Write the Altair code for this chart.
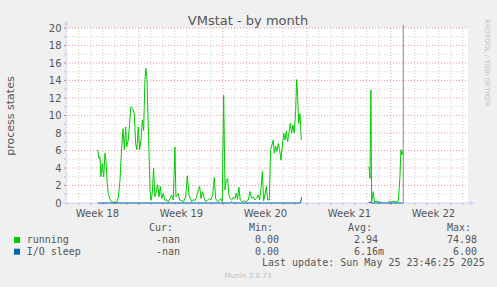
import altair as alt
import pandas as pd

# ---------------- data (x = days from the Week 19 boundary) ----------------
run_day = [-3.44, -3.33, -3.25, -3.17, -3.06, -2.94, -2.83, -2.75, -2.64, -2.56,
           -2.44, -2.28, -2.14, -2.0, -1.86, -1.72, -1.58, -1.44, -1.33, -1.22,
           -1.11, -1.03, -0.89, -0.78, -0.67, -0.53, -0.39, -0.28, -0.17, -0.06,
           0.06, 0.17, 0.28, 0.39, 0.5, 0.58, 0.67, 0.78, 0.92, 1.0,
           1.11, 1.22, 1.33, 1.44, 1.56, 1.67, 1.78, 1.89, 2.03, 2.17,
           2.31, 2.44, 2.58, 2.72, 2.86, 3.0, 3.08, 3.19, 3.28, 3.39,
           3.56, 3.72, 3.89, 4.03, 4.17, 4.28, 4.39, 4.53, 4.67, 4.81,
           4.94, 5.06, 5.17, 5.31, 5.44, 5.58, 5.72, 5.86, 6.0, 6.14,
           6.28, 6.39, 6.56, 6.69, 6.83, 6.94, 7.06, 7.17, 7.28, 7.39,
           7.5, 7.61, 7.72, 7.86, 8.0, 8.11, 8.22, 8.33, 8.44, 8.61,
           8.78, 8.94, 9.11, 9.25, 9.39, 9.53, 9.67, 9.81, 9.94, 10.06,
           10.17, 10.28, 10.39, 10.5, 10.61, 10.72, 10.86, 10.97, 11.08, 11.19,
           11.28, 11.39, 11.5, 11.61, 11.72, 11.83, 11.94, 12.06, 12.17, 12.28,
           12.39, 12.5, 12.61, 12.72, 12.83, 12.94, 13.06, 13.14, 13.22, 13.31,
           13.42, 13.53,
           None,
           19.17, 19.25, 19.33, 19.39, 19.53, 19.61, 19.81, 20.03, 20.22,
           None,
           20.78, 20.97, 21.19, 21.42, 21.61, 21.75, 21.83, 21.92, 21.97]
run_val = [6.06, 5.1, 5.3, 3.0, 4.5, 3.0, 5.7, 4.9, 2.2, 1.1,
           0.5, 0.15, 0.05, 0.15, 0.05, 0.65, 2.6, 6.4, 8.5, 6.1,
           8.7, 6.4, 7.2, 9.1, 11.0, 10.8, 10.2, 6.8, 6.1, 8.7,
           6.1, 7.2, 9.5, 8.3, 14.1, 15.4, 14.1, 8.7, 1.5, 0.3,
           1.1, 4.0, 0.7, 1.3, 2.1, 0.7, 1.9, 0.5, 1.1, 0.27,
           0.4, 0.1, 0.5, 0.9, 0.35, 6.4, 0.7, 0.9, 1.1, 0.35,
           0.27, 0.15, 0.7, 3.1, 0.9, 0.5, 0.15, 0.4, 0.27, 0.7,
           1.5, 1.9, 0.5, 1.3, 0.5, 0.15, 0.35, 0.5, 0.35, 0.9,
           2.9, 0.5, 0.15, 0.27, 0.5, 0.15, 12.3, 1.5, 2.6, 2.8,
           0.9, 0.5, 0.35, 0.65, 0.5, 1.1, 0.4, 1.8, 0.35, 0.15,
           0.25, 0.15, 0.35, 1.3, 0.55, 0.7, 0.35, 0.55, 0.9, 0.35,
           1.7, 3.6, 0.25, 0.9, 1.9, 0.35, 0.35, 6.1, 6.6, 7.2,
           5.7, 6.5, 5.9, 6.8, 6.1, 4.9, 6.4, 8.0, 7.2, 8.2,
           7.0, 8.0, 9.1, 8.0, 8.9, 8.0, 10.6, 14.1, 12.2, 9.1,
           10.2, 7.2,
           None,
           4.15, 2.8, 12.9, 0.15, 1.3, 0.15, 0.2, 0.1, 0.1,
           None,
           0.2, 0.1, 0.2, 0.1, 0.2, 3.0, 6.1, 5.5, 5.9]

io_day = [-3.44, 7.65, 7.72, 7.8, 13.46, 13.56,
          None,
          19.17, 19.25, 19.33, 21.97]
io_val = [0.0, 0.0, 0.15, 0.0, 0.0, 0.65,
          None,
          0.0, 0.15, 0.0, 0.0]

now_day = [22.03]

y_major = [2, 4, 6, 8, 10, 12, 14, 16, 18, 20]
y_minor = [1, 3, 5, 7, 9, 11, 13, 15, 17, 19]
x_major = [0, 7, 14, 21]
x_minor = [-6, -5, -4, -3, -2, -1, 1, 2, 3, 4, 5, 6, 8, 9, 10, 11, 12, 13,
           15, 16, 17, 18, 19, 20, 22, 23, 24, 25, 26, 27]
y_labels = [0, 2, 4, 6, 8, 10, 12, 14, 16, 18, 20]
week_pos = [-3.5, 3.5, 10.5, 17.5, 24.5]
week_names = ["Week 18", "Week 19", "Week 20", "Week 21", "Week 22"]

series_names = ["running", "I/O sleep"]
series_colors = ["#00CC00", "#0066B3"]
cur_vals = ["-nan", "-nan"]
min_vals = ["0.00", "0.00"]
avg_vals = ["2.94", "6.16m"]
max_vals = ["74.98", "6.00"]

title_text = "VMstat - by month"
y_title = "process states"
update_text = "Last update: Sun May 25 23:46:25 2025"
munin_text = "Munin 2.0.73"
rrd_text = "RRDTOOL / TOBI OETIKER"

# ---------------- layout ----------------
W, H = 402, 175
FONT = "DejaVu Sans"
MONO = "DejaVu Sans Mono"
TXT = "#555555"
AXC = "#CFD6F8"


def segs(days, vals):
    rows, s = [], 0
    for d, v in zip(days, vals):
        if d is None:
            s += 1
            continue
        rows.append({"d": d, "v": v, "seg": s})
    return pd.DataFrame(rows)


run_df = segs(run_day, run_val)
io_df = segs(io_day, io_val)

xs = alt.Scale(domain=[-6.08, 27.42], nice=False, zero=False)
ys = alt.Scale(domain=[0, 20], nice=False, zero=False)

# label expression built from the week lists
expr = "''"
for p, n in reversed(list(zip(week_pos, week_names))):
    expr = f"abs(datum.value - ({p})) < 0.01 ? '{n}' : " + expr

X_AXIS = alt.Axis(values=week_pos, labelExpr=expr, grid=False, ticks=False,
                  domain=False, labelPadding=5, labelFont=FONT, labelFontSize=10,
                  labelColor=TXT, title=None, labelFlush=False, labelOverlap=False)
Y_AXIS = alt.Axis(values=y_labels, grid=False, ticks=False, domain=False,
                  labelPadding=5, labelFont=FONT, labelFontSize=10,
                  labelColor=TXT, title=y_title, titleFont=FONT,
                  titleFontSize=11, titleFontWeight="normal", titleColor=TXT,
                  titleX=-56, titleY=H / 2, titleAngle=-90,
                  titleBaseline="middle", titleAlign="center",
                  labelFlush=False, labelOverlap=False)


def X(field="d"):
    return alt.X(f"{field}:Q", scale=xs, axis=X_AXIS)


def Y(field="v"):
    return alt.Y(f"{field}:Q", scale=ys, axis=Y_AXIS)


layers = []


def hgrid(vals, color, opacity):
    return alt.Chart(pd.DataFrame({"v": vals})).mark_rule(
        color=color, opacity=opacity, strokeDash=[1, 2], strokeWidth=1
    ).encode(y=Y(), x=alt.value(0), x2=alt.value(W))


def vgrid(vals, color, opacity):
    return alt.Chart(pd.DataFrame({"d": vals})).mark_rule(
        color=color, opacity=opacity, strokeDash=[1, 2], strokeWidth=1
    ).encode(x=X(), y=alt.value(0), y2=alt.value(H))


def xtick(vals, color):
    return alt.Chart(pd.DataFrame({"d": vals})).mark_rule(color=color, strokeWidth=1).encode(
        x=X(), y=alt.value(H), y2=alt.value(H + 2))


def ytick(vals, color):
    return alt.Chart(pd.DataFrame({"v": vals})).mark_rule(color=color, strokeWidth=1).encode(
        y=Y(), x=alt.value(-2), x2=alt.value(0))


layers += [hgrid(y_minor, "#C0C0C0", 0.75), hgrid(y_major, "#E00000", 0.4),
           vgrid(x_minor, "#C0C0C0", 0.75), vgrid(x_major, "#E00000", 0.4)]

# axis lines and arrows
one = pd.DataFrame({"k": [0]})
layers.append(alt.Chart(one).mark_rule(color=AXC, strokeWidth=1).encode(
    x=alt.value(0), y=alt.value(-4), y2=alt.value(H)))
layers.append(alt.Chart(one).mark_rule(color=AXC, strokeWidth=1).encode(
    x=alt.value(-3), x2=alt.value(W + 3), y=alt.value(H)))
layers.append(alt.Chart(one).mark_point(shape="triangle-up", filled=True, color=AXC,
                                        size=30, opacity=1).encode(
    x=alt.value(0), y=alt.value(-5)))
layers.append(alt.Chart(one).mark_point(shape="triangle-right", filled=True, color=AXC,
                                        size=30, opacity=1).encode(
    x=alt.value(W + 4), y=alt.value(H)))

layers += [xtick(x_minor, "#C0C0C0"), xtick(x_major, "#E88080"),
           ytick(y_minor, "#C0C0C0"), ytick(y_major, "#E88080")]

# data lines
run_line = alt.Chart(run_df).mark_line(color=series_colors[0], strokeWidth=1).encode(
    x=X(), y=Y(), detail="seg:N")
io_line = alt.Chart(io_df).mark_line(color=series_colors[1], strokeWidth=1).encode(
    x=X(), y=Y(), detail="seg:N")
now_rule = alt.Chart(pd.DataFrame({"d": now_day})).mark_rule(color="#909090", strokeWidth=1).encode(
    x=X(), y=alt.value(-3), y2=alt.value(H))
layers += [run_line, io_line, now_rule]


def txt(s, x, y, font=FONT, size=10, color=TXT, align="left", angle=0, baseline="middle"):
    return alt.Chart(pd.DataFrame({"t": [s]})).mark_text(
        font=font, fontSize=size, color=color, align=align, baseline=baseline,
        angle=angle).encode(text="t:N", x=alt.value(x), y=alt.value(y))


layers.append(txt(title_text, 182, -3.5, size=13, align="center", baseline="alphabetic"))
layers.append(txt(rrd_text, 421, 35, size=6.8, color="#BEBEBE", align="center", angle=90))

# legend table
for lab, xl in zip(["Cur:", "Min:", "Avg:", "Max:"], [83, 183, 282, 381]):
    layers.append(txt(lab, xl, 199.7, font=MONO))
row_y = [212, 223.7]
for i in range(2):
    layers.append(alt.Chart(one).mark_point(shape="square", filled=True, opacity=1,
                                            color=series_colors[i], size=36).encode(
        x=alt.value(-49), y=alt.value(row_y[i])))
    layers.append(txt(series_names[i], -39.3, row_y[i], font=MONO))
    layers.append(txt(cur_vals[i], 90, row_y[i], font=MONO))
    layers.append(txt(min_vals[i], 189, row_y[i], font=MONO))
    layers.append(txt(avg_vals[i], 288, row_y[i], font=MONO))
    layers.append(txt(max_vals[i], 411 - 6.02 * len(max_vals[i]), row_y[i], font=MONO))
layers.append(txt(update_text, 196, 235.3, font=MONO))
layers.append(txt(munin_text, 182, 248, size=7.2, color="#C0C0C0", align="center"))

chart = alt.layer(*layers).properties(
    width=W, height=H,
    autosize=alt.AutoSizeParams(type="none"),
    padding={"left": 66, "top": 28, "right": 29, "bottom": 84},
    background="#F0F0F0",
).configure_view(strokeWidth=0, fill="white")

chart.save("out.html", embed_options={"renderer": "svg", "actions": False})
